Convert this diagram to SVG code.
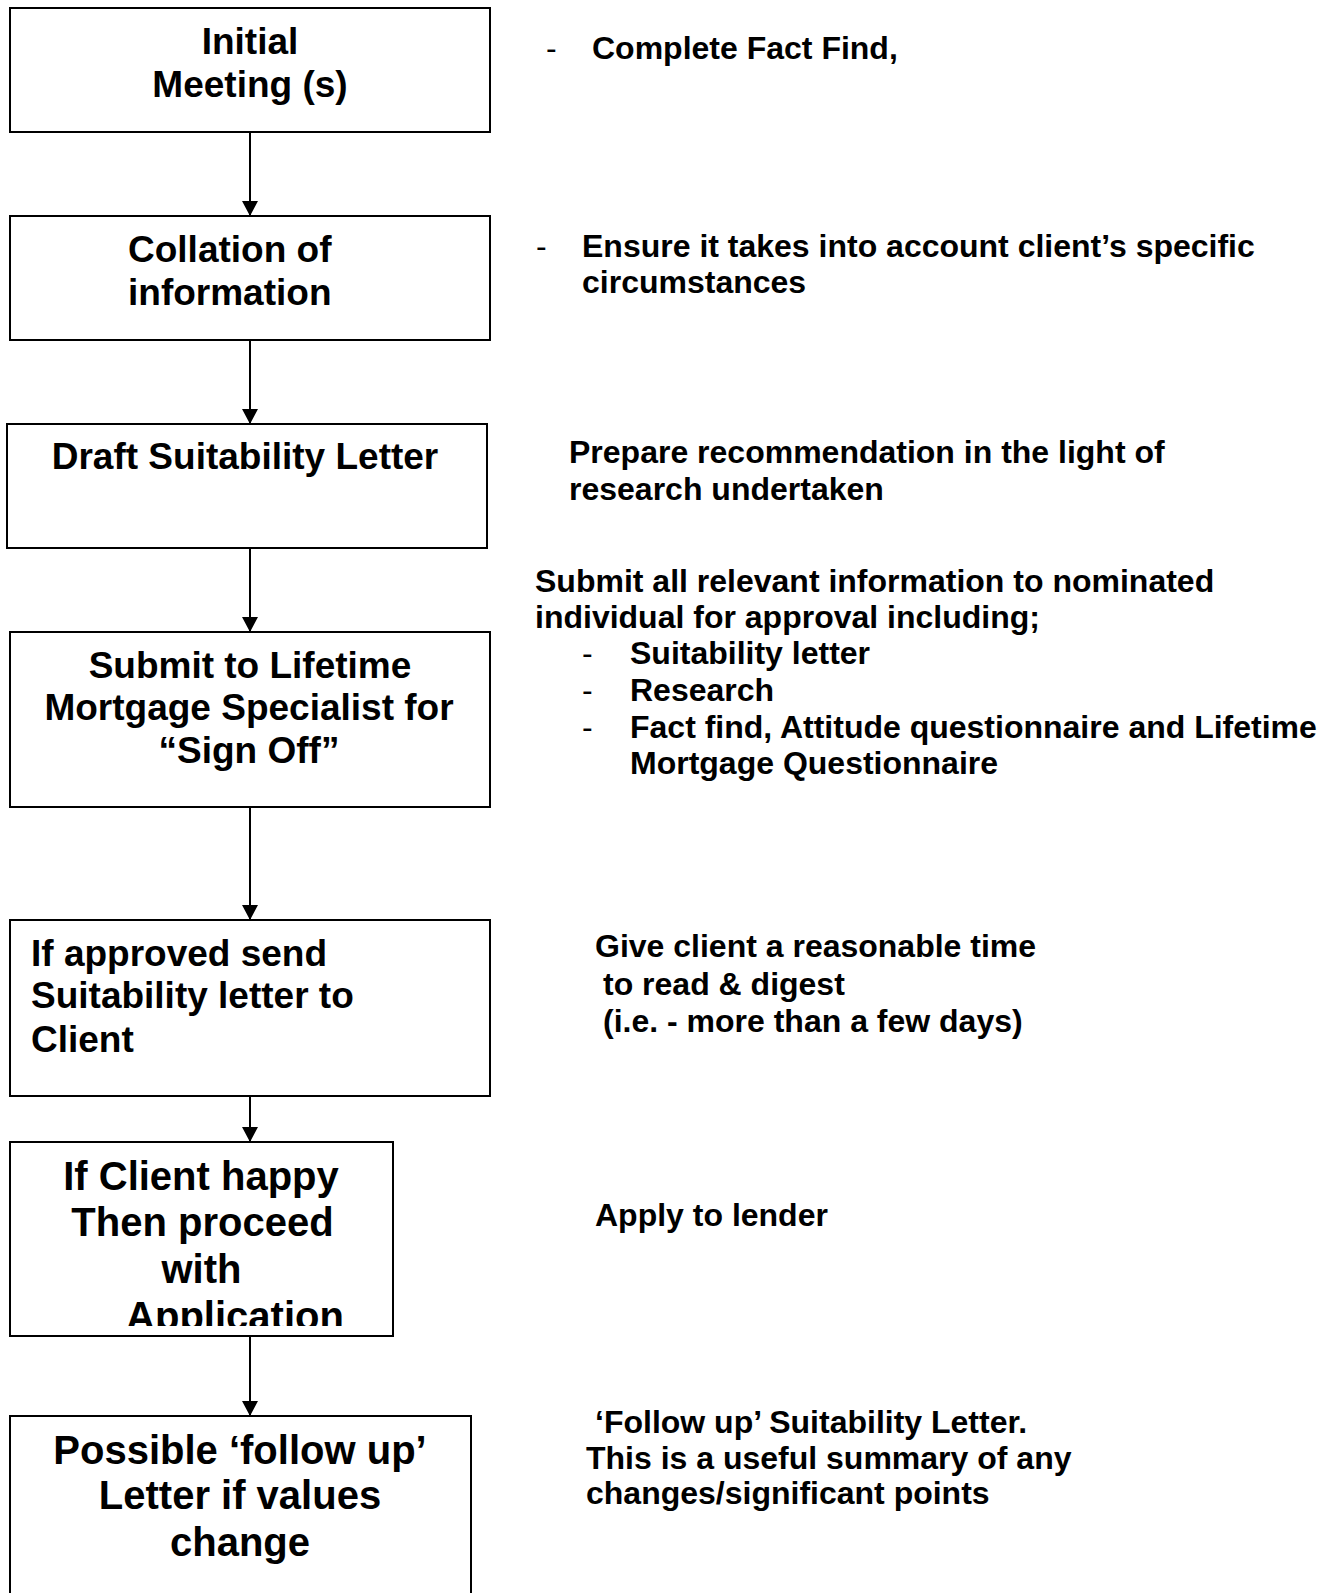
<svg xmlns="http://www.w3.org/2000/svg" width="1335" height="1593" viewBox="0 0 1335 1593">
<style>
.box{fill:#fff;stroke:#000;stroke-width:2}
.t{font-family:"Liberation Sans",Arial,sans-serif;font-weight:bold;fill:#000}
.d{font-weight:normal}
.n{font-size:37px}
.n2{font-size:40px}
.r{font-size:32px}
.c{text-anchor:middle}
.conn line{stroke:#000;stroke-width:2;marker-end:url(#ah)}
</style>
<defs>
<marker id="ah" markerUnits="userSpaceOnUse" viewBox="0 0 15 16" markerWidth="15" markerHeight="16" refX="15" refY="8" orient="auto">
<path d="M0,0 L15,8 L0,16 z" fill="#000"/>
</marker>
<clipPath id="clip6"><rect x="10" y="1142" width="383" height="184"/></clipPath>
</defs>
<rect width="1335" height="1593" fill="#fff"/>

<g id="n1">
<rect class="box" x="10" y="8" width="480" height="124"/>
<text class="t n c" x="250" y="53.5">Initial</text>
<text class="t n c" x="250" y="97">Meeting (s)</text>
</g>
<g id="n2">
<rect class="box" x="10" y="216" width="480" height="124"/>
<text class="t n" x="128" y="262">Collation of</text>
<text class="t n" x="128" y="305">information</text>
</g>
<g id="n3">
<rect class="box" x="7" y="424" width="480" height="124"/>
<text class="t n c" x="245" y="469">Draft Suitability Letter</text>
</g>
<g id="n4">
<rect class="box" x="10" y="632" width="480" height="175"/>
<text class="t n c" x="250" y="677.5">Submit to Lifetime</text>
<text class="t n c" x="249" y="720">Mortgage Specialist for</text>
<text class="t n c" x="249" y="763">“Sign Off”</text>
</g>
<g id="n5">
<rect class="box" x="10" y="920" width="480" height="176"/>
<text class="t n" x="31" y="966">If approved send</text>
<text class="t n" x="31" y="1008">Suitability letter to</text>
<text class="t n" x="31" y="1052">Client</text>
</g>
<g id="n6">
<rect class="box" x="10" y="1142" width="383" height="194"/>
<text class="t n2 c" x="201" y="1190">If Client happy</text>
<text class="t n2 c" x="202.5" y="1236">Then proceed</text>
<text class="t n2 c" x="201.5" y="1283">with</text>
<text class="t n2 c" x="235" y="1330" clip-path="url(#clip6)">Application</text>
</g>
<g id="n7">
<rect class="box" x="10" y="1416" width="461" height="200"/>
<text class="t n2 c" x="240" y="1464">Possible ‘follow up’</text>
<text class="t n2 c" x="240" y="1509">Letter if values</text>
<text class="t n2 c" x="240" y="1556">change</text>
</g>

<g id="connectors" class="conn">
<line x1="250" y1="133" x2="250" y2="216"/>
<line x1="250" y1="341" x2="250" y2="424"/>
<line x1="250" y1="549" x2="250" y2="632"/>
<line x1="250" y1="808" x2="250" y2="920"/>
<line x1="250" y1="1097" x2="250" y2="1142"/>
<line x1="250" y1="1337" x2="250" y2="1416"/>
</g>

<g id="notes">
<text class="t r d" x="546" y="59">-</text>
<text class="t r" x="592" y="59">Complete Fact Find,</text>

<text class="t r d" x="536" y="257">-</text>
<text class="t r" x="582" y="257">Ensure it takes into account client’s specific</text>
<text class="t r" x="582" y="293">circumstances</text>

<text class="t r" x="569" y="463">Prepare recommendation in the light of</text>
<text class="t r" x="569" y="500">research undertaken</text>

<text class="t r" x="535" y="592">Submit all relevant information to nominated</text>
<text class="t r" x="535" y="628">individual for approval including;</text>
<text class="t r d" x="582" y="664">-</text>
<text class="t r" x="630" y="664">Suitability letter</text>
<text class="t r d" x="582" y="701">-</text>
<text class="t r" x="630" y="701">Research</text>
<text class="t r d" x="582" y="738">-</text>
<text class="t r" x="630" y="738">Fact find, Attitude questionnaire and Lifetime</text>
<text class="t r" x="630" y="774">Mortgage Questionnaire</text>

<text class="t r" x="595" y="957">Give client a reasonable time</text>
<text class="t r" x="603" y="995">to read &amp; digest</text>
<text class="t r" x="603" y="1032">(i.e. - more than a few days)</text>

<text class="t r" x="595" y="1226">Apply to lender</text>

<text class="t r" x="595" y="1433">‘Follow up’ Suitability Letter.</text>
<text class="t r" x="586" y="1469">This is a useful summary of any</text>
<text class="t r" x="586" y="1504">changes/significant points</text>
</g>
</svg>
